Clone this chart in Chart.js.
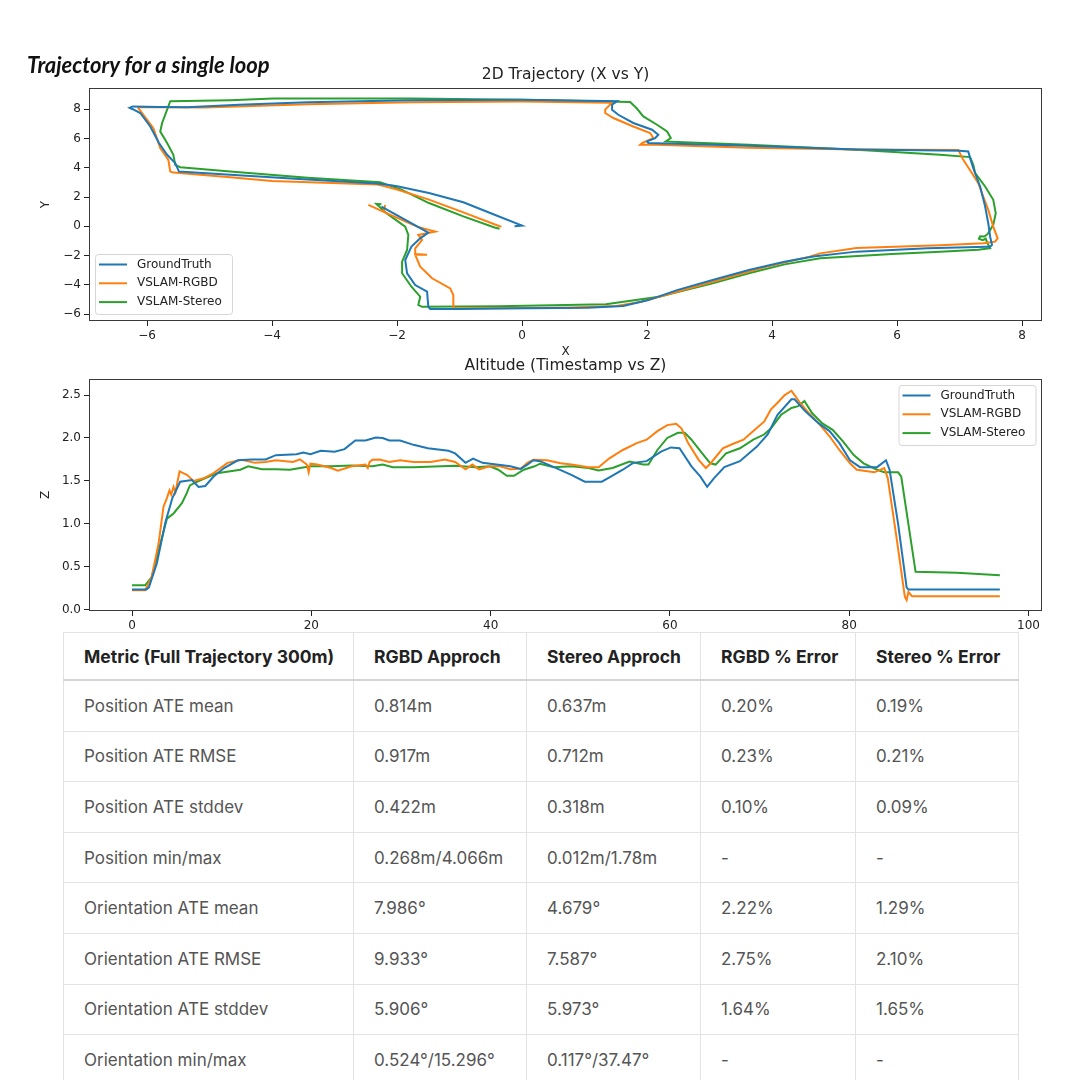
<!DOCTYPE html>
<html>
<head>
<meta charset="utf-8">
<script src="https://cdn.jsdelivr.net/npm/chart.js@4.4.1/dist/chart.umd.min.js"></script>
<style>
  html, body { margin: 0; padding: 0; background: #fff; }
  body { width: 1080px; height: 1080px; position: relative; overflow: hidden; }
  #xyChart { position: absolute; left: 0; top: 60px; }
  #zChart { position: absolute; left: 0; top: 354px; }
  #heading { position: absolute; left: 27px; top: 51px; font: italic 700 22px Lato, sans-serif; color: #111; }
  #metrics { position: absolute; left: 63px; top: 632px; width: 955px; border-collapse: collapse; table-layout: fixed;
             font-family: Inter, Roboto, sans-serif; font-size: 17px; background: #fff; }
  #metrics th, #metrics td { border: 1px solid #e3e3e3; text-align: left; padding: 0 0 0 20px; white-space: nowrap; }
  #metrics th { height: 46px; font-weight: 700; font-size: 17.5px; color: #222; border-bottom: 2px solid #d4d4d4; }
  #metrics td { height: 49.6px; color: #555; }
</style>
</head>
<body>
<canvas id="xyChart" width="1080" height="300"></canvas>
<canvas id="zChart" width="1080" height="280"></canvas>
<div id="heading">Trajectory for a single loop</div>
<table id="metrics"></table>
<script>
// --- 2D trajectory (x, y) ---
const gtXY = [[-0.12,0.0],[0.0,0.05],[-0.44,0.79],[-0.94,1.64],[-1.49,2.28],[-2.0,2.74],[-2.1,2.8],[-2.32,2.93],
  [-3.5,3.22],[-4.67,3.52],[-5.49,3.74],[-5.55,4.32],[-5.68,4.89],[-5.81,5.69],[-5.95,6.82],[-6.11,7.74],[-6.23,8.0],
  [-6.28,8.1],[-6.23,8.19],[-5.8,8.15],[-5.36,8.13],[-4.53,8.3],[-3.43,8.48],[-1.77,8.62],[0.0,8.64],[1.52,8.55],
  [1.44,8.31],[1.44,7.97],[1.54,7.62],[1.78,7.06],[2.08,6.6],[2.18,6.25],[2.13,6.03],[2.0,5.8],[2.02,5.69],[3.63,5.5],
  [5.35,5.25],[7.0,5.16],[7.14,5.11],[7.17,4.66],[7.22,3.98],[7.33,2.72],[7.41,1.35],[7.46,0.21],[7.49,-0.71],
  [7.52,-1.27],[7.49,-1.39],[7.44,-1.39],[6.49,-1.5],[5.35,-1.73],[4.66,-2.07],[4.2,-2.42],[3.63,-2.99],[3.05,-3.67],
  [2.48,-4.36],[2.02,-5.04],[1.62,-5.45],[1.05,-5.56],[-0.38,-5.62],[-1.0,-5.65],[-1.47,-5.65],[-1.5,-5.5],
  [-1.52,-4.47],[-1.71,-4.01],[-1.84,-3.21],[-1.87,-2.3],[-1.77,-1.39],[-1.63,-0.82],[-1.5,-0.43],[-2.25,1.35]];
const rgbdXY = [[-0.33,-0.02],[-0.36,0.0],[-0.94,0.95],[-1.49,1.82],[-2.0,2.51],[-2.24,2.78],[-2.32,2.85],[-4.0,3.1],
  [-4.67,3.36],[-5.58,3.67],[-5.63,3.74],[-5.66,4.54],[-5.79,5.34],[-5.9,6.71],[-6.06,7.62],[-6.14,8.08],[-6.12,8.15],
  [-5.09,8.12],[-3.43,8.34],[-1.77,8.48],[0.0,8.52],[1.44,8.45],[1.33,7.97],[1.33,7.74],[1.46,7.4],[1.78,6.82],
  [2.05,6.37],[2.1,6.03],[1.92,5.69],[1.89,5.57],[2.16,5.57],[3.63,5.36],[5.35,5.25],[6.98,5.22],[7.06,4.54],
  [7.2,3.63],[7.3,2.95],[7.38,2.03],[7.46,1.12],[7.54,-0.02],[7.61,-0.82],[7.57,-1.05],[7.38,-1.16],[6.69,-1.3],
  [5.35,-1.48],[4.77,-1.85],[4.6,-2.07],[3.91,-2.76],[3.05,-3.79],[2.48,-4.47],[1.91,-5.16],[1.51,-5.45],
  [0.76,-5.54],[-0.38,-5.6],[-1.1,-5.6],[-1.1,-4.7],[-1.15,-4.24],[-1.44,-3.55],[-1.63,-2.76],[-1.71,-1.95],
  [-1.52,-1.95],[-1.71,-1.9],[-1.71,-1.5],[-1.6,-0.93],[-1.66,-0.59],[-1.39,-0.36],[-1.68,-0.02],[-2.22,1.0],
  [-2.19,1.46],[-2.22,1.0],[-2.46,1.46]];
const stereoXY = [[-0.36,-0.17],[-0.44,-0.08],[-0.94,0.68],[-1.49,1.59],[-1.93,2.51],[-2.16,2.85],[-2.27,3.01],
  [-3.43,3.31],[-4.67,3.74],[-5.47,4.04],[-5.55,4.2],[-5.58,4.89],[-5.68,5.69],[-5.79,6.48],[-5.76,7.06],
  [-5.68,7.97],[-5.63,8.55],[-4.67,8.62],[-3.98,8.73],[-1.77,8.73],[0.0,8.64],[1.73,8.49],[1.83,8.08],[1.94,7.51],
  [2.16,6.94],[2.32,6.48],[2.38,6.03],[2.3,5.8],[2.69,5.73],[3.63,5.57],[5.35,5.23],[6.69,4.89],[7.17,4.73],
  [7.22,4.2],[7.25,3.63],[7.41,2.72],[7.54,1.81],[7.58,0.9],[7.54,0.1],[7.46,-0.47],[7.43,-0.6],[7.40,-0.7],
  [7.33,-0.68],[7.31,-0.85],[7.37,-0.95],[7.42,-0.85],[7.44,-1.1],[7.49,-1.5],[7.3,-1.6],[6.69,-1.73],[5.92,-1.9],
  [4.77,-2.19],[4.2,-2.6],[3.63,-3.21],[3.05,-3.9],[2.19,-4.81],[1.34,-5.33],[-0.38,-5.47],[-1.6,-5.5],
  [-1.66,-5.38],[-1.63,-4.81],[-1.77,-4.13],[-1.92,-3.21],[-1.92,-2.42],[-1.84,-1.62],[-1.82,-0.59],[-1.87,-0.02],
  [-2.17,0.9],[-2.33,1.53],[-2.25,1.5]];

// --- altitude (timestamp, z) ---
const gtTZ = [[0,0.234],[1.6,0.234],[1.88,0.26],[2.77,0.54],[3.73,1.02],[4.5,1.3],[5.37,1.49],[6.68,1.51],[7.42,1.43],
  [8.17,1.44],[9.1,1.55],[10.27,1.65],[11.8,1.74],[13.35,1.75],[14.9,1.75],[16.04,1.8],[18.35,1.81],[19.1,1.83],
  [19.9,1.81],[21.04,1.85],[22.6,1.84],[23.7,1.87],[24.9,1.97],[26.04,1.97],[27.2,2.005],[27.96,2.0],[28.7,1.97],
  [29.9,1.97],[31.4,1.92],[33,1.88],[35.3,1.85],[36.04,1.82],[37.2,1.71],[38.04,1.76],[39.1,1.71],[40.65,1.69],
  [42.2,1.67],[43.35,1.64],[44.1,1.69],[44.76,1.74],[45.5,1.73],[47.06,1.66],[49,1.57],[50.5,1.49],[52.4,1.49],
  [53.4,1.55],[54.74,1.63],[55.9,1.71],[57.4,1.73],[59,1.84],[60.1,1.89],[61.07,1.88],[62.4,1.67],[63.4,1.55],
  [64.15,1.43],[64.9,1.53],[66.07,1.66],[67.8,1.73],[69.7,1.9],[70.9,2.04],[72.0,2.27],[73.55,2.45],[73.9,2.45],
  [75.1,2.31],[76.6,2.17],[77.8,2.08],[78.9,1.94],[80.08,1.74],[81.2,1.66],[83.1,1.66],[84.1,1.74],[84.5,1.63],
  [85.45,1.0],[86.4,0.26],[86.6,0.234],[96.8,0.234]];
const rgbdTZ = [[0,0.226],[1.46,0.226],[2.19,0.38],[2.96,0.77],[3.51,1.2],[3.89,1.3],[4.18,1.39],[4.37,1.34],
  [4.63,1.43],[4.85,1.37],[5.07,1.49],[5.3,1.61],[6.12,1.57],[6.86,1.5],[7.98,1.53],[9.1,1.59],[10.65,1.71],
  [12.2,1.745],[13.73,1.71],[14.88,1.72],[16.04,1.74],[17.96,1.72],[18.73,1.75],[19.5,1.69],[19.7,1.6],[19.9,1.7],
  [20.65,1.69],[22.2,1.65],[22.96,1.62],[24.5,1.67],[26.04,1.69],[26.3,1.65],[26.5,1.72],[26.8,1.745],[27.6,1.75],
  [28.7,1.72],[29.9,1.74],[31.4,1.72],[33.3,1.72],[34.9,1.75],[36.04,1.72],[37.2,1.635],[37.96,1.69],[38.7,1.635],
  [39.9,1.67],[41.04,1.67],[42.2,1.635],[43.35,1.64],[44.1,1.71],[44.76,1.745],[46.3,1.74],[47.8,1.705],[49,1.69],
  [50.9,1.66],[52.05,1.66],[53.2,1.76],[54.74,1.86],[56.3,1.94],[57.4,1.98],[58.6,2.08],[59.7,2.15],[60.7,2.165],
  [61.3,2.11],[62.03,1.94],[63.2,1.745],[64,1.65],[64.5,1.7],[65.9,1.88],[67,1.93],[68.2,1.98],[69.3,2.08],
  [70.5,2.19],[71.25,2.33],[72,2.41],[72.8,2.5],[73.55,2.55],[73.9,2.5],[74.5,2.41],[75.5,2.29],[76.6,2.17],
  [77.8,2.02],[78.9,1.86],[80.08,1.705],[80.84,1.63],[82.8,1.6],[83.9,1.65],[84.3,1.53],[85.26,0.85],[86.2,0.15],
  [86.4,0.11],[86.6,0.206],[87,0.156],[96.8,0.156]];
const stereoTZ = [[0,0.284],[1.46,0.284],[2.19,0.38],[2.96,0.69],[3.89,1.06],[4.63,1.12],[5.56,1.24],[6.12,1.36],
  [6.3,1.41],[6.49,1.45],[7.24,1.49],[9.47,1.59],[12.08,1.63],[12.96,1.67],[14.5,1.635],[16.04,1.635],[17.6,1.63],
  [19.9,1.67],[22.2,1.67],[24.5,1.68],[26.8,1.67],[27.96,1.69],[29.1,1.66],[31.4,1.66],[34.5,1.67],[36.04,1.675],
  [38.35,1.66],[39.9,1.67],[40.85,1.63],[41.8,1.56],[42.6,1.56],[43.7,1.63],[44.9,1.67],[45.5,1.7],[47.06,1.66],
  [49,1.67],[50.9,1.65],[52.05,1.62],[53.6,1.65],[55.5,1.725],[57,1.69],[57.6,1.69],[58.6,1.86],[59.7,2.0],
  [60.9,2.06],[61.65,2.06],[62.4,1.98],[63.6,1.82],[64.5,1.705],[65.1,1.69],[66.26,1.82],[67.8,1.88],[69.3,1.98],
  [70.5,2.04],[71.25,2.11],[72.4,2.27],[73.55,2.35],[74.3,2.37],[75,2.43],[75.85,2.29],[77,2.17],[78.15,2.095],
  [79.3,1.96],[80.5,1.8],[81.6,1.705],[83.1,1.63],[83.9,1.6],[85.45,1.6],[85.8,1.55],[87.4,0.44],[92,0.43],[96.8,0.4]];

const seriesNames = ['GroundTruth', 'VSLAM-RGBD', 'VSLAM-Stereo'];
const seriesColors = ['#1f77b4', '#ff7f0e', '#2ca02c'];

const xTicks = [-6, -4, -2, 0, 2, 4, 6, 8];
const yTicks = [-6, -4, -2, 0, 2, 4, 6, 8];
const tTicks = [0, 20, 40, 60, 80, 100];
const zTicks = [0.0, 0.5, 1.0, 1.5, 2.0, 2.5];

// --- metrics table ---
const tableHeader = ['Metric (Full Trajectory 300m)', 'RGBD Approch', 'Stereo Approch', 'RGBD % Error', 'Stereo % Error'];
const metricNames = ['Position ATE mean', 'Position ATE RMSE', 'Position ATE stddev', 'Position min/max',
  'Orientation ATE mean', 'Orientation ATE RMSE', 'Orientation ATE stddev', 'Orientation min/max'];
const rgbdValues = ['0.814m', '0.917m', '0.422m', '0.268m/4.066m', '7.986°', '9.933°', '5.906°', '0.524°/15.296°'];
const stereoValues = ['0.637m', '0.712m', '0.318m', '0.012m/1.78m', '4.679°', '7.587°', '5.973°', '0.117°/37.47°'];
const rgbdError = ['0.20%', '0.23%', '0.10%', '-', '2.22%', '2.75%', '1.64%', '-'];
const stereoError = ['0.19%', '0.21%', '0.09%', '-', '1.29%', '2.10%', '1.65%', '-'];

Chart.defaults.font.family = "'DejaVu Sans', sans-serif";
Chart.defaults.font.size = 12;
Chart.defaults.color = '#222';

const minus = v => (v < 0 ? '\u2212' + Math.abs(v) : String(v));

// matplotlib-like axes box, title centred over the axes, inside legend
const mplFrame = {
    id: 'mplFrame',
    afterDatasetsDraw(chart, args, opts) {
        const {ctx, chartArea: a} = chart;
        ctx.save();
        ctx.strokeStyle = '#3a3a3a';
        ctx.lineWidth = 1;
        ctx.strokeRect(Math.round(a.left) + 0.5, Math.round(a.top) + 0.5,
            Math.round(a.right - a.left) - 1, Math.round(a.bottom - a.top) - 1);

        ctx.fillStyle = '#222';
        ctx.font = "15.5px 'DejaVu Sans'";
        ctx.textAlign = 'center';
        ctx.textBaseline = 'middle';
        ctx.fillText(opts.title, (a.left + a.right) / 2, a.top - 13);

        const w = 137, h = 60;
        const x = opts.corner === 'lowerleft' ? a.left + 6 : a.right - 6.5 - w;
        const y = opts.corner === 'lowerleft' ? a.bottom - 7 - h : a.top + 6;
        ctx.fillStyle = 'rgba(255,255,255,0.8)';
        ctx.strokeStyle = '#d6d6d6';
        ctx.beginPath();
        ctx.roundRect(x + 0.5, y + 0.5, w, h, 3);
        ctx.fill();
        ctx.stroke();
        ctx.font = "12px 'DejaVu Sans'";
        ctx.textAlign = 'left';
        chart.data.datasets.forEach((ds, i) => {
            const ry = y + 10.5 + i * 18.8;
            ctx.strokeStyle = ds.borderColor;
            ctx.lineWidth = 2;
            ctx.beginPath();
            ctx.moveTo(x + 4, ry);
            ctx.lineTo(x + 32, ry);
            ctx.stroke();
            ctx.fillStyle = '#222';
            ctx.fillText(ds.label, x + 42, ry);
        });
        ctx.restore();
    }
};

function makeScale(min, max, values, fmt, titleText, size, isY, titlePad) {
    return {
        type: 'linear',
        min: min,
        max: max,
        afterBuildTicks: s => { s.ticks = values.map(v => ({value: v})); },
        afterFit: s => { if (isY) s.width = size; else s.height = size; },
        grid: {drawOnChartArea: false, drawTicks: true, tickLength: 5, color: '#222'},
        border: {display: false},
        ticks: {color: '#222', padding: 3, maxRotation: 0, autoSkip: false, callback: fmt},
        title: {display: !!titleText, text: titleText, color: '#222', font: {size: 12}, padding: titlePad}
    };
}

function makeDatasets(list) {
    return list.map((pts, i) => ({
        label: seriesNames[i],
        data: pts.map(p => ({x: p[0], y: p[1]})),
        showLine: true,
        borderColor: seriesColors[i],
        backgroundColor: seriesColors[i],
        borderWidth: 2,
        pointRadius: 0,
        tension: 0
    }));
}

new Chart(document.getElementById('xyChart'), {
    type: 'scatter',
    data: {datasets: makeDatasets([gtXY, rgbdXY, stereoXY])},
    options: {
        responsive: false,
        animation: false,
        layout: {padding: {left: 0, right: 38, top: 28, bottom: 0}},
        plugins: {
            legend: {display: false},
            tooltip: {enabled: false},
            title: {display: false},
            mplFrame: {corner: 'lowerleft', title: '2D Trajectory (X vs Y)'}
        },
        scales: {
            x: makeScale(-6.93, 8.32, xTicks, minus, 'X', 39, false, {top: 0, bottom: 1}),
            y: makeScale(-6.47, 9.45, yTicks, minus, 'Y', 89, true, {top: 39, bottom: 0})
        }
    },
    plugins: [mplFrame]
});

new Chart(document.getElementById('zChart'), {
    type: 'scatter',
    data: {datasets: makeDatasets([gtTZ, rgbdTZ, stereoTZ])},
    options: {
        responsive: false,
        animation: false,
        layout: {padding: {left: 0, right: 38, top: 25, bottom: 0}},
        plugins: {
            legend: {display: false},
            tooltip: {enabled: false},
            title: {display: false},
            mplFrame: {corner: 'upperright', title: 'Altitude (Timestamp vs Z)'}
        },
        scales: {
            x: makeScale(-4.8, 101.5, tTicks, v => String(v), '', 23, false, {top: 0, bottom: 0}),
            y: makeScale(-0.016, 2.687, zTicks, v => v.toFixed(1), 'Z', 89, true, {top: 39, bottom: 0})
        }
    },
    plugins: [mplFrame]
});

// table
const table = document.getElementById('metrics');
const colWidths = [290, 173, 174, 155, 163];
const colgroup = document.createElement('colgroup');
colWidths.forEach(w => {
    const c = document.createElement('col');
    c.style.width = w + 'px';
    colgroup.appendChild(c);
});
table.appendChild(colgroup);
const head = table.insertRow();
tableHeader.forEach(t => {
    const th = document.createElement('th');
    th.textContent = t;
    head.appendChild(th);
});
metricNames.forEach((name, i) => {
    const row = table.insertRow();
    [name, rgbdValues[i], stereoValues[i], rgbdError[i], stereoError[i]].forEach(t => {
        row.insertCell().textContent = t;
    });
});
</script>
</body>
</html>
